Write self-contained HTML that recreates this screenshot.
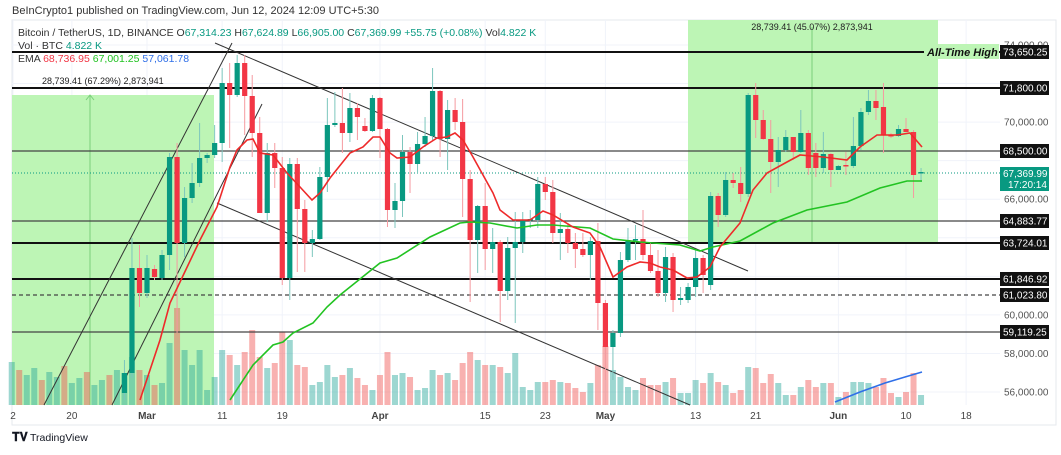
<!DOCTYPE html>
<html><head><meta charset="utf-8"><style>
html,body{margin:0;padding:0;background:#fff;width:1061px;height:455px;overflow:hidden;font-family:"Liberation Sans",sans-serif}
svg{position:absolute;left:0;top:0}
</style></head><body>
<svg id="s" width="1061" height="455" viewBox="0 0 1061 455" xmlns="http://www.w3.org/2000/svg" font-family="Liberation Sans, sans-serif">
<rect x="0" y="0" width="1061" height="455" fill="#fff"/>
<rect x="12" y="20" width="1044" height="405" fill="none" stroke="#e6e8ee"/>
<g id="grid" stroke="#f0f3fa" stroke-width="1"></g>
<rect x="12" y="95" width="202" height="310" fill="#bdf5b5"/>
<rect x="688" y="20" width="250" height="223" fill="#bdf5b5"/>
<line x1="812" y1="27" x2="812" y2="243" stroke="#7ad07a"/>
<line x1="90" y1="95" x2="90" y2="405" stroke="#7ad07a"/>
<path d="M86 100 L90 95 L94 100" fill="none" stroke="#7ad07a"/>
<g id="vol"></g>
<g id="levels"></g>
<g stroke="#333" stroke-width="1" fill="none">
<line x1="44" y1="405" x2="232" y2="43"/>
<line x1="112" y1="405" x2="262" y2="104"/>
<line x1="215" y1="43" x2="748" y2="271"/>
<line x1="217" y1="203" x2="690" y2="405"/>
</g>
<line x1="12" y1="173" x2="1000" y2="173" stroke="#089981" stroke-width="1" stroke-dasharray="1,2"/>
<g id="candles"></g>
<polyline fill="none" stroke="#22c322" stroke-width="1.6" points="230,400 253,365 273,345 283,342 293,333 313,323 327,307 340,295 350,287 380,263 397,258 430,237 460,223 470,222 490,223 517,228 537,225 553,225 590,228 613,239 640,242 680,245 700,251 713,247 740,241 773,223 807,210 847,202 880,188 907,181 922,181"/>
<polyline fill="none" stroke="#ee2a2a" stroke-width="1.6" points="140,400 160,340 170,303 200,240 217,207 230,167 237,150 247,140 253,139 260,153 273,155 287,173 300,187 312,200 320,193 330,178 350,153 363,147 373,137 380,137 390,153 397,158 410,157 423,147 437,138 447,137 455,133 463,140 473,157 493,193 500,210 513,220 530,220 543,211 553,215 573,227 590,233 600,247 613,277 627,267 640,262 650,263 660,267 673,270 687,278 697,277 710,267 720,247 740,223 753,190 767,173 787,162 800,155 823,157 847,160 860,147 877,135 897,135 910,133 922,147"/>
<polyline fill="none" stroke="#2f6fe8" stroke-width="1.6" points="835,402 860,392 885,383 905,377 922,372"/>
<text x="12" y="14" font-size="11" fill="#333">BeInCrypto1 published on TradingView.com, Jun 12, 2024 12:09 UTC+5:30</text>
<text x="18" y="36" font-size="10.5" fill="#333">Bitcoin / TetherUS, 1D, BINANCE <tspan fill="#333">O</tspan><tspan fill="#089981">67,314.23</tspan> <tspan fill="#333">H</tspan><tspan fill="#089981">67,624.89</tspan> <tspan fill="#333">L</tspan><tspan fill="#089981">66,905.00</tspan> <tspan fill="#333">C</tspan><tspan fill="#089981">67,369.99</tspan> <tspan fill="#089981">+55.75 (+0.08%)</tspan> <tspan fill="#333">Vol</tspan><tspan fill="#089981">4.822 K</tspan></text>
<text x="18" y="49" font-size="10.5" fill="#333">Vol · BTC <tspan fill="#089981">4.822 K</tspan></text>
<text x="18" y="62" font-size="10.5" fill="#333">EMA <tspan fill="#f23645">68,736.95</tspan> <tspan fill="#22c322">67,001.25</tspan> <tspan fill="#2f6fe8">57,061.78</tspan></text>
<text x="42" y="84" font-size="9" fill="#222">28,739.41 (67.29%) 2,873,941</text>
<text x="812" y="30" font-size="9" fill="#222" text-anchor="middle">28,739.41 (45.07%) 2,873,941</text>
<g id="axis" font-size="10" fill="#555"></g>
<rect x="924" y="44" width="75" height="15" fill="#bdf5b5"/>
<text x="927" y="56" font-size="11" font-weight="bold" font-style="italic" fill="#111">All-Time High</text>
<g font-size="10" fill="#444" id="dates"></g>
<text x="12" y="441" font-size="12" font-weight="bold" fill="#131722">𝐓𝐕</text>
<text x="30" y="441" font-size="10.5" fill="#131722">TradingView</text>
</svg>
<script>
var NS="http://www.w3.org/2000/svg";
function el(p,t,a,txt){var e=document.createElementNS(NS,t);for(var k in a)e.setAttribute(k,a[k]);if(txt)e.textContent=txt;p.appendChild(e);return e;}
function X(d){return 147+7.515*d;}
function Y(p){return 45+(74000-p)/1000*19.28;}
var grid=document.getElementById('grid');
[74000,72000,70000,68000,66000,64000,62000,60000,58000,56000].forEach(function(p){el(grid,'line',{x1:12,x2:1000,y1:Y(p),y2:Y(p)});});
var dates=[["2",-18],["20",-10],["Mar",0],["11",10],["19",18],["Apr",31],["15",45],["23",53],["May",61],["13",73],["21",81],["Jun",92],["10",101],["18",109]];
var dg=document.getElementById('dates');
dates.forEach(function(d){var x=X(d[1]);if(d[0]=="2")x=13;el(grid,'line',{x1:x,x2:x,y1:20,y2:405});el(dg,'text',{x:x,y:419,'text-anchor':'middle','font-weight':(isNaN(d[0])?'bold':'normal')},d[0]);});
var ax=document.getElementById('axis');
[[74000,'74,000.00'],[70000,'70,000.00'],[66000,'66,000.00'],[60000,'60,000.00'],[58000,'58,000.00'],[56000,'56,000.00']].forEach(function(a){el(ax,'text',{x:1004,y:Y(a[0])+3.5},a[1]);});
var lv=document.getElementById('levels');
var levels=[[52,'73,650.25',2,1000],[88,'71,800.00',2,1000],[151,'68,500.00',1.3,1000],[221,'64,883.77',1.3,1000],[243,'63,724.01',2,1000],[279,'61,846.92',2,1000],[295,'61,023.80',1.3,1000,1],[332,'59,119.25',1.3,1000]];
levels.forEach(function(l){var a={x1:12,x2:l[3],y1:l[0],y2:l[0],stroke:l[2]>1.5?'#111':'#444','stroke-width':l[2]};if(l[4])a['stroke-dasharray']='4,3';el(lv,'line',a);});
levels.forEach(function(l){el(ax,'rect',{x:1000,y:l[0]-7,width:49,height:14,fill:'#111'});el(ax,'text',{x:1003,y:l[0]+3.5,fill:'#fff'},l[1]);});
el(ax,'rect',{x:1000,y:167,width:49,height:24,fill:'#089981'});
el(ax,'text',{x:1003,y:177,fill:'#fff'},'67,369.99');
el(ax,'text',{x:1008,y:188,fill:'#fff'},'17:20:14');
var C=[[-3,393,373,360,400],[-2,373,268,238,378],[-1,268,293,245,307],[0,293,268,255,298],[1,269,277,265,280],[2,278,255,250,280],[3,255,157,153,270],[4,157,243,143,333],[5,243,198,187,257],[6,198,183,163,203],[7,183,158,123,187],[8,158,155,153,163],[9,155,143,125,158],[10,143,83,68,162],[11,83,95,63,148],[12,95,63,55,97],[13,63,96,55,135],[14,96,133,75,157],[15,133,213,117,207],[16,213,153,143,222],[17,153,168,143,188],[18,168,278,157,285],[19,278,164,158,300],[20,164,209,158,272],[21,209,243,200,272],[22,243,239,230,257],[23,239,177,167,240],[24,177,125,98,192],[25,125,123,92,127],[26,123,133,88,153],[27,133,108,93,142],[28,108,117,103,140],[29,126,131,118,132],[30,131,98,95,132],[31,98,129,97,158],[32,129,210,128,227],[33,210,201,183,228],[34,201,152,135,217],[35,152,164,147,193],[36,164,144,132,173],[37,144,136,117,147],[38,136,91,68,140],[39,91,139,90,157],[40,139,110,100,170],[41,110,122,98,130],[42,122,179,99,217],[43,179,240,170,302],[44,240,206,205,273],[45,206,249,183,270],[46,249,242,228,273],[47,242,291,240,322],[48,291,248,237,300],[49,248,242,212,323],[50,242,220,212,253],[51,220,219,210,228],[52,220,184,177,228],[53,184,192,177,200],[54,192,233,180,243],[55,233,229,213,260],[56,229,243,223,253],[57,243,249,233,268],[58,249,255,233,257],[59,255,241,237,280],[60,241,303,223,330],[61,303,347,300,380],[62,347,333,330,380],[63,333,260,252,337],[64,260,240,228,262],[65,240,239,225,260],[66,239,255,210,260],[67,255,271,243,273],[68,271,293,250,297],[69,293,257,247,302],[70,257,300,253,312],[71,300,298,287,305],[72,300,287,283,303],[73,287,258,250,297],[74,258,275,255,293],[75,285,196,192,290],[76,196,215,193,227],[77,215,180,172,217],[78,180,183,173,188],[79,183,194,167,202],[80,194,95,93,197],[81,95,120,83,138],[82,120,139,110,140],[83,139,162,120,193],[84,162,150,137,187],[85,150,137,130,152],[86,137,152,137,160],[87,152,133,110,153],[88,133,168,130,175],[89,153,168,143,177],[90,168,154,132,173],[91,154,170,153,187],[92,170,166,165,170],[93,165,166,152,175],[94,166,146,117,168],[95,146,112,108,150],[96,112,101,90,115],[97,101,108,90,120],[98,107,135,83,153],[99,135,136,133,138],[100,136,129,125,137],[101,129,132,118,132],[102,132,175,130,198],[103,173,172,168,182]];
var cg=document.getElementById('candles');
C.forEach(function(c){var x=X(c[0]);var up=c[2]<=c[1];var col=up?'#089981':'#f23645';var wc=up?'#7cc6bd':'#f59aa0';
el(cg,'line',{x1:x,x2:x,y1:c[3],y2:c[4],stroke:wc,'stroke-width':1});
var t=Math.min(c[1],c[2]),h=Math.max(1.5,Math.abs(c[1]-c[2]));
el(cg,'rect',{x:x-2.6,y:t,width:5.2,height:h,fill:col});});
var vv=[373,357,370,375,385,383,343,308,350,365,350,390,377,350,355,365,352,330,357,368,363,332,340,365,367,385,382,365,377,375,368,378,385,390,375,352,375,373,377,390,388,370,375,373,380,363,352,360,365,365,367,373,353,387,390,382,382,380,382,383,388,392,383,365,346,370,377,387,390,378,385,385,382,378,393,393,380,383,373,382,385,393,390,367,368,383,374,383,395,395,387,380,387,383,383,397,392,382,382,383,387,378,393,397,392,373,395];
var pre=[362,370,375,368,380,372,377,366,383,378,372,385,380,375,370];
var vg=document.getElementById('vol');
for(var i=0;i<pre.length;i++){var d=-18+i;var x=X(d);el(vg,'rect',{x:x-3,y:pre[i],width:6,height:405-pre[i],fill:(i%3==1)?'rgba(239,83,80,0.45)':'rgba(38,166,154,0.45)'});}
for(var i=0;i<vv.length;i++){var d=-3+i;var c=C[i];var up=c?c[2]<=c[1]:true;var x=X(d);
el(vg,'rect',{x:x-3,y:vv[i],width:6,height:405-vv[i],fill:up?'rgba(38,166,154,0.45)':'rgba(239,83,80,0.45)'});}
</script>
</body></html>
